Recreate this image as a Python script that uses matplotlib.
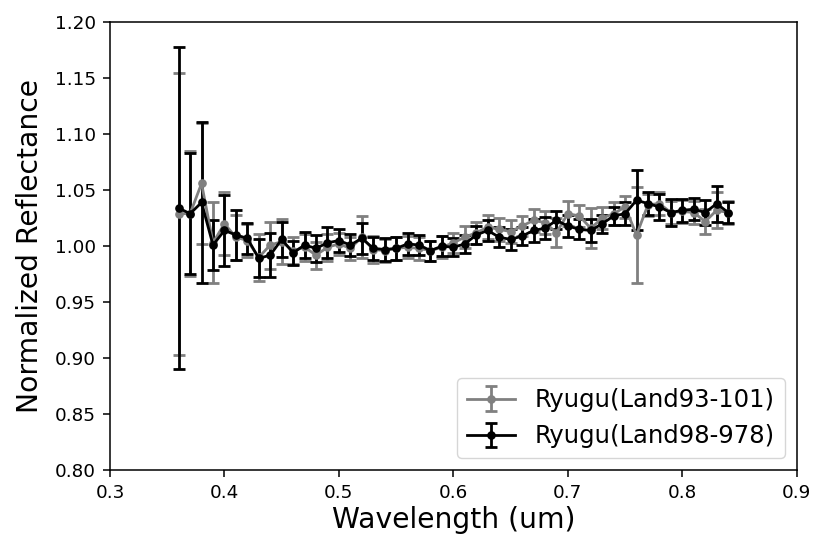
import numpy as np
import matplotlib
matplotlib.use("Agg")
import matplotlib.pyplot as plt

# wavelength grid (um)
wavelength = [0.36, 0.37, 0.38, 0.39, 0.40, 0.41, 0.42, 0.43, 0.44, 0.45,
              0.46, 0.47, 0.48, 0.49, 0.50, 0.51, 0.52, 0.53, 0.54, 0.55,
              0.56, 0.57, 0.58, 0.59, 0.60, 0.61, 0.62, 0.63, 0.64, 0.65,
              0.66, 0.67, 0.68, 0.69, 0.70, 0.71, 0.72, 0.73, 0.74, 0.75,
              0.76, 0.77, 0.78, 0.79, 0.80, 0.81, 0.82, 0.83, 0.84]

# Ryugu (Land93-101)
refl_93 = [1.029, 1.029, 1.056, 1.003, 1.020, 1.008, 1.005, 0.990, 1.001, 1.004,
           0.996, 0.999, 0.992, 0.999, 1.002, 0.998, 1.008, 0.997, 0.996, 0.998,
           0.999, 0.998, 0.996, 0.999, 1.003, 1.008, 1.012, 1.017, 1.015, 1.013,
           1.018, 1.023, 1.021, 1.012, 1.029, 1.027, 1.016, 1.025, 1.029, 1.035,
           1.010, 1.037, 1.038, 1.030, 1.031, 1.030, 1.022, 1.032, 1.030]
err_93 = [0.126, 0.056, 0.054, 0.036, 0.028, 0.020, 0.015, 0.021, 0.021, 0.020,
          0.012, 0.012, 0.012, 0.012, 0.010, 0.010, 0.019, 0.012, 0.010, 0.010,
          0.010, 0.010, 0.009, 0.010, 0.009, 0.010, 0.010, 0.011, 0.010, 0.010,
          0.009, 0.010, 0.010, 0.013, 0.011, 0.010, 0.018, 0.010, 0.010, 0.010,
          0.043, 0.010, 0.010, 0.010, 0.010, 0.010, 0.011, 0.016, 0.010]

# Ryugu (Land98-978)
refl_98 = [1.034, 1.029, 1.039, 1.001, 1.014, 1.010, 1.007, 0.989, 0.992, 1.006,
           0.994, 1.001, 0.998, 1.003, 1.005, 1.001, 1.007, 0.998, 0.997, 0.998,
           1.002, 1.001, 0.996, 1.000, 0.999, 1.002, 1.010, 1.014, 1.008, 1.006,
           1.009, 1.014, 1.016, 1.023, 1.018, 1.015, 1.014, 1.020, 1.027, 1.029,
           1.041, 1.038, 1.035, 1.030, 1.032, 1.033, 1.030, 1.038, 1.030]
err_98 = [0.144, 0.054, 0.072, 0.022, 0.032, 0.022, 0.014, 0.017, 0.020, 0.016,
          0.011, 0.012, 0.012, 0.014, 0.010, 0.010, 0.014, 0.010, 0.010, 0.010,
          0.010, 0.009, 0.009, 0.009, 0.008, 0.008, 0.008, 0.009, 0.009, 0.009,
          0.008, 0.010, 0.010, 0.008, 0.010, 0.009, 0.010, 0.008, 0.008, 0.010,
          0.027, 0.010, 0.012, 0.012, 0.010, 0.010, 0.011, 0.016, 0.009]

fig = plt.figure(figsize=(8.3, 5.55), dpi=100)
ax = fig.add_axes([0.1325, 0.153, 0.8275, 0.807])

style = dict(marker="o", markersize=5.2, linewidth=2, elinewidth=2,
             capsize=4.5, capthick=2)
ax.errorbar(wavelength, refl_93, yerr=err_93, color="gray",
            label="Ryugu(Land93-101)", **style)
ax.errorbar(wavelength, refl_98, yerr=err_98, color="black",
            label="Ryugu(Land98-978)", **style)

ax.set_xlim(0.3, 0.9)
ax.set_ylim(0.80, 1.20)
ax.set_xticks(np.arange(0.3, 0.91, 0.1))
ax.set_yticks(np.arange(0.80, 1.201, 0.05))
ax.xaxis.set_major_formatter(matplotlib.ticker.FormatStrFormatter("%.1f"))
ax.yaxis.set_major_formatter(matplotlib.ticker.FormatStrFormatter("%.2f"))
ax.tick_params(labelsize=13.2, length=4.7, width=1.1, pad=5.5)
for spine in ax.spines.values():
    spine.set_linewidth(1.1)
ax.set_xlabel("Wavelength (um)", fontsize=20.3, labelpad=3)
ax.set_ylabel("Normalized Reflectance", fontsize=20.3, labelpad=8)
ax.legend(loc="lower right", fontsize=17.5)

fig.savefig("out.png", dpi=100)
